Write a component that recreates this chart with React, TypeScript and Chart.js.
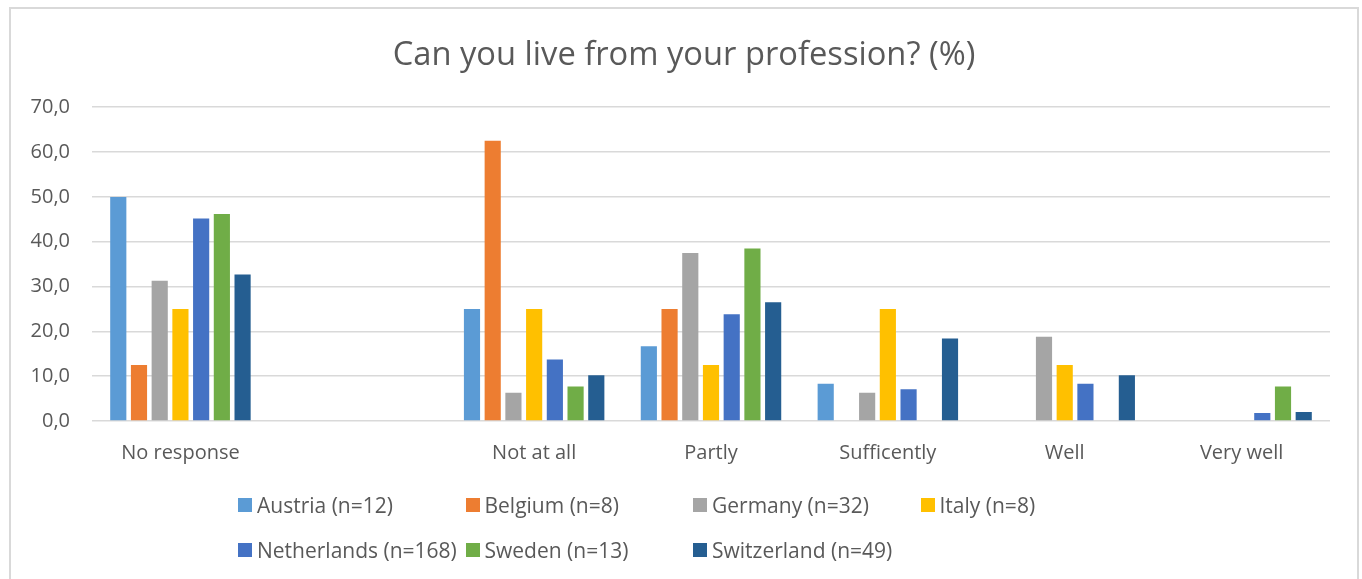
import React, { useEffect, useRef } from "react";
import { Chart, registerables } from "chart.js";

Chart.register(...registerables);

// Answer categories (the second slot is an intentionally empty gap)
const categories = ["No response", "", "Not at all", "Partly", "Sufficently", "Well", "Very well"];

// Share of respondents per answer, in percent
const austria = [50.0, null, 25.0, 16.7, 8.3, 0, 0];
const belgium = [12.5, null, 62.5, 25.0, 0, 0, 0];
const germany = [31.3, null, 6.3, 37.5, 6.3, 18.8, 0];
const italy = [25.0, null, 25.0, 12.5, 25.0, 12.5, 0];
const netherlands = [45.2, null, 13.7, 23.8, 7.1, 8.3, 1.8];
const sweden = [46.2, null, 7.7, 38.5, 0, 0, 7.7];
const switzerland = [32.7, null, 10.2, 26.5, 18.4, 10.2, 2.0];

const seriesLabels = [
  "Austria (n=12)",
  "Belgium (n=8)",
  "Germany (n=32)",
  "Italy (n=8)",
  "Netherlands (n=168)",
  "Sweden (n=13)",
  "Switzerland (n=49)",
];
const seriesColors = ["#5B9BD5", "#ED7D31", "#A5A5A5", "#FFC000", "#4472C4", "#70AD47", "#255E91"];
const seriesValues = [austria, belgium, germany, italy, netherlands, sweden, switzerland];

const yTicks = { min: 0, max: 70, step: 10 };

const FONT = "'Open Sans', 'Noto Sans', sans-serif";
const TEXT = "#595959";
const GRID = "#D9D9D9";

// Frame of the chart box; the title is centred within it
const FRAME = { left: 9, top: 7, right: 1359 };

const centerTitleInFrame = {
  id: "centerTitleInFrame",
  afterLayout(chart: any) {
    const tb = chart.titleBlock;
    if (!tb) return;
    tb.left = FRAME.left;
    tb.right = FRAME.right;
    tb.width = FRAME.right - FRAME.left;
  },
};

export default function App() {
  const canvasRef = useRef<HTMLCanvasElement | null>(null);

  useEffect(() => {
    const ctx = canvasRef.current;
    if (!ctx) return;
    const chart = new Chart(ctx, {
      type: "bar",
      data: {
        labels: categories,
        datasets: seriesValues.map((values, i) => ({
          label: seriesLabels[i],
          data: values,
          backgroundColor: seriesColors[i],
          borderWidth: 0,
          categoryPercentage: 0.82,
          barPercentage: 0.78,
        })),
      },
      plugins: [centerTitleInFrame],
      options: {
        animation: false,
        responsive: false,
        maintainAspectRatio: false,
        layout: { padding: { left: 22, right: 32, top: 0, bottom: 102 } },
        plugins: {
          legend: { display: false },
          tooltip: { enabled: false },
          title: {
            display: true,
            text: "Can you live from your profession? (%)",
            color: TEXT,
            font: { family: FONT, size: 32.7, weight: "normal" },
            padding: { top: 36, bottom: 32 },
          },
        },
        scales: {
          x: {
            grid: { display: false },
            border: { display: false },
            ticks: {
              color: TEXT,
              font: { family: FONT, size: 20 },
              padding: 12,
              maxRotation: 0,
              autoSkip: false,
            },
          },
          y: {
            min: yTicks.min,
            max: yTicks.max,
            afterFit: (scale: any) => {
              scale.width = 70;
            },
            grid: { color: GRID, lineWidth: 1.5, drawTicks: false },
            border: { display: false },
            ticks: {
              stepSize: yTicks.step,
              color: TEXT,
              font: { family: FONT, size: 20 },
              padding: 22,
              callback: (v: any) => Number(v).toFixed(1).replace(".", ","),
            },
          },
        },
      },
    });
    return () => chart.destroy();
  }, []);

  const legendRows = [seriesLabels.slice(0, 4), seriesLabels.slice(4)];

  return (
    <div style={{ position: "absolute", left: 0, top: 0, width: 1362, height: 579, overflow: "hidden", background: "#fff" }}>
      <div
        style={{
          position: "absolute",
          left: FRAME.left,
          top: FRAME.top,
          width: FRAME.right - FRAME.left - 4,
          height: 620,
          border: `2px solid ${GRID}`,
        }}
      />
      <canvas ref={canvasRef} width={1362} height={579} style={{ position: "absolute", left: 0, top: 0 }} />
      {legendRows.map((row, r) => (
        <div key={r} style={{ position: "absolute", left: 238, top: r === 0 ? 493 : 538, display: "flex" }}>
          {row.map((label, c) => {
            const idx = r * 4 + c;
            return (
              <div
                key={label}
                style={{ width: 227.5, display: "flex", alignItems: "center", height: 24, whiteSpace: "nowrap" }}
              >
                <span style={{ width: 14, height: 14, background: seriesColors[idx], marginRight: 5, flex: "none" }} />
                <span style={{ fontFamily: FONT, fontSize: 21, color: TEXT }}>{label}</span>
              </div>
            );
          })}
        </div>
      ))}
    </div>
  );
}
